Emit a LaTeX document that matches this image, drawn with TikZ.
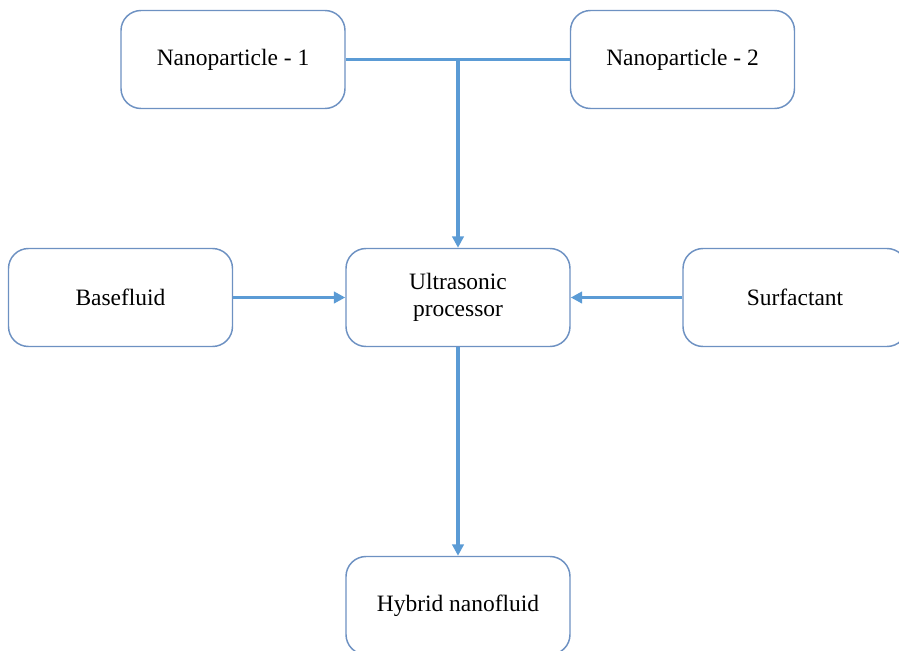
\documentclass[tikz,border=0pt]{standalone}
\usepackage{fontspec}
\setmainfont{Liberation Serif}
\usetikzlibrary{arrows.meta,positioning}
\definecolor{boxline}{HTML}{6D91C2}
\definecolor{arrowline}{HTML}{5B9BD5}
\begin{document}
\begin{tikzpicture}[%
	    x=0.75pt,
	    y=-0.75pt,
	    >={Triangle[length=8.5pt,width=8.5pt]},
	    stage/.style={draw=boxline,line width=1.1pt,rounded corners=15pt,
	      minimum width=168pt,minimum height=73.5pt,align=center,
	      font=\fontsize{17.6pt}{20pt}\selectfont},
	    flow/.style={draw=arrowline,line width=2.4pt}
	  ]

	  \clip (0,0) rectangle (899,650);

	  \node[stage] (N1) at (233,59.5) {Nanoparticle - 1};
	  \node[stage] (N2) at (682.5,59.5) {Nanoparticle - 2};
	  \node[stage] (UP) at (458,297.5) {Ultrasonic\\processor};
	  \node[stage] (BF) at (120.5,297.5) {Basefluid};
	  \node[stage] (SF) at (795,297.5) {Surfactant};
	  \node[stage] (HN) at (458,605.5) {Hybrid nanofluid};

	  \coordinate (J) at (UP.north |- N1.east);

	  \draw[flow] (N1.east) -- (N2.west);
	  \draw[flow,->] (J) -- (UP.north);
	  \draw[flow,->] (BF.east) -- (UP.west);
	  \draw[flow,->] (SF.west) -- (UP.east);
	  \draw[flow,->] (UP.south) -- (HN.north);

\end{tikzpicture}
\end{document}
